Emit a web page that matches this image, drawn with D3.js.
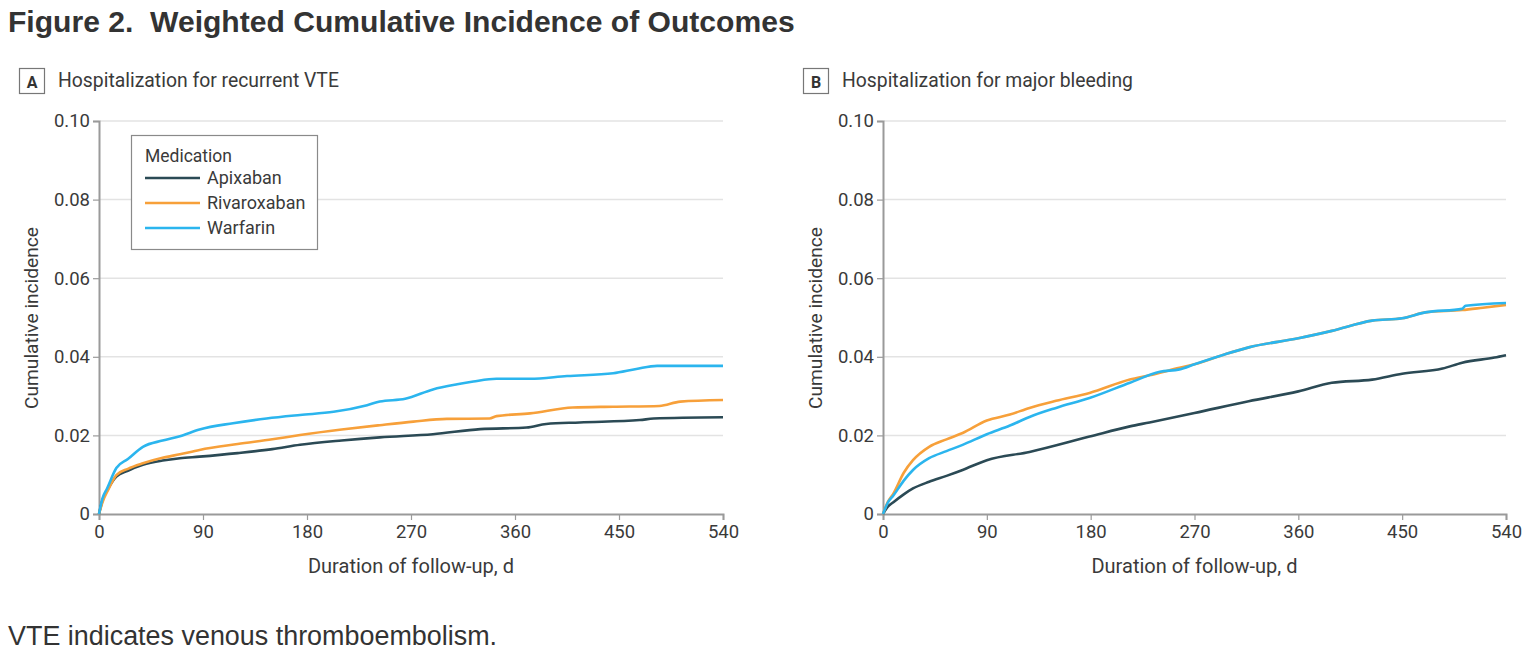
<!DOCTYPE html>
<html>
<head>
<meta charset="utf-8">
<script src="https://cdn.jsdelivr.net/npm/d3@7"></script>
<style>
html,body{margin:0;padding:0;background:#fff;}
svg{display:block;}
text{white-space:pre;}
</style>
</head>
<body>
<svg id="chart" width="1529" height="653"></svg>
<script>
// ---------------- DATA ----------------
const xTicks = [0, 90, 180, 270, 360, 450, 540];
const yTicks = [0, 0.02, 0.04, 0.06, 0.08, 0.10];
const yTickLabels = ["0", "0.02", "0.04", "0.06", "0.08", "0.10"];
const medications = ["Apixaban", "Rivaroxaban", "Warfarin"];
const medColors = ["#2b4a55", "#f7a03a", "#2bb5ee"];

// Panel A: Hospitalization for recurrent VTE
const apixA_days = [0,3,8,15,25,38,55,70,87,120,150,174,210,243,289,330,370,387,416,468,480,540];
const apixA_vals = [0,0.0035,0.0065,0.0095,0.0110,0.0125,0.0136,0.0142,0.0146,0.0155,0.0165,0.0176,0.0187,0.0195,0.0203,0.0216,0.0220,0.0229,0.0233,0.0239,0.0243,0.0246];
const rivaA_days = [0,3,8,15,25,38,55,70,87,120,150,174,210,243,272,301,338,344,373,410,445,485,503,540];
const rivaA_vals = [0,0.003,0.0062,0.0099,0.0115,0.0129,0.0143,0.0152,0.0163,0.0178,0.0190,0.0201,0.0215,0.0226,0.0235,0.0242,0.0243,0.0249,0.0256,0.0271,0.0273,0.0275,0.0286,0.0290];
const warfA_days = [0,3,7,15,25,38,55,70,87,116,145,174,203,232,243,265,289,310,324,344,373,405,445,465,483,540];
const warfA_vals = [0,0.004,0.0065,0.0117,0.0140,0.0171,0.0187,0.0198,0.0215,0.0231,0.0243,0.0252,0.0260,0.0277,0.0286,0.0293,0.0317,0.0330,0.0337,0.0344,0.0344,0.0351,0.0358,0.0369,0.0377,0.0377];

// Panel B: Hospitalization for major bleeding
const apixB_days = [0,4,9,18,26,40,55,69,90,127,179,214,231,270,317,360,389,424,450,485,502,530,540];
const apixB_vals = [0,0.0018,0.0030,0.0050,0.0065,0.0082,0.0097,0.0112,0.0137,0.0158,0.0197,0.0223,0.0233,0.0257,0.0287,0.0312,0.0334,0.0342,0.0357,0.0370,0.0385,0.0398,0.0404];
const rivaB_days = [0,4,9,18,26,40,55,69,90,110,127,150,179,214,231,257,270,294,317,360,389,424,450,470,502,520,540];
const rivaB_vals = [0,0.003,0.0052,0.0105,0.0137,0.0171,0.0190,0.0206,0.0238,0.0253,0.0270,0.0288,0.0308,0.0342,0.0353,0.0372,0.0381,0.0404,0.0424,0.0447,0.0466,0.0492,0.0498,0.0513,0.0519,0.0525,0.0532];
const warfB_days = [0,4,9,18,26,40,55,69,90,110,127,150,179,214,240,257,270,294,317,360,389,424,450,470,502,505,540];
const warfB_vals = [0,0.0028,0.0047,0.0085,0.0112,0.0142,0.0160,0.0176,0.0203,0.0225,0.0247,0.0270,0.0295,0.0334,0.0362,0.0368,0.0381,0.0404,0.0424,0.0447,0.0466,0.0492,0.0498,0.0513,0.0522,0.0530,0.0537];

const figureTitle = "Figure 2.  Weighted Cumulative Incidence of Outcomes";
const panelLetters = ["A", "B"];
const panelTitles = ["Hospitalization for recurrent VTE", "Hospitalization for major bleeding"];
const yAxisTitle = "Cumulative incidence";
const xAxisTitle = "Duration of follow-up, d";
const legendTitle = "Medication";
const footnote = "VTE indicates venous thromboembolism.";

// ---------------- DRAW ----------------
const svg = d3.select("#chart");
const condensed = "'Liberation Sans Narrow', 'Roboto', sans-serif";
const helv = "'Liberation Sans', Arial, sans-serif";
const textColor = "#3a3a3a";

function fitText(sel, width) {
  const len = sel.node().getComputedTextLength();
  const fs = parseFloat(sel.attr("font-size"));
  sel.attr("font-size", (fs * width / len).toFixed(2));
  return sel;
}

svg.append("rect").attr("width", 1529).attr("height", 653).attr("fill", "#fff");

fitText(svg.append("text").attr("x", 8).attr("y", 32)
  .attr("font-family", helv).attr("font-weight", "bold").attr("font-size", 26)
  .attr("fill", "#333").text(figureTitle), 787);

fitText(svg.append("text").attr("x", 8).attr("y", 645)
  .attr("font-family", helv).attr("font-size", 20)
  .attr("fill", "#333").text(footnote), 489);

const panels = [
  { left: 99, right: 723, letterX: 19, titleX: 58, titleW: 281,
    series: [[apixA_days, apixA_vals], [rivaA_days, rivaA_vals], [warfA_days, warfA_vals]], legend: true },
  { left: 883, right: 1506, letterX: 803, titleX: 842, titleW: 291,
    series: [[apixB_days, apixB_vals], [rivaB_days, rivaB_vals], [warfB_days, warfB_vals]], legend: false }
];
const plotTop = 121, plotBottom = 514;

panels.forEach((p, pi) => {
  const g = svg.append("g");
  const x = d3.scaleLinear().domain([0, 540]).range([p.left, p.right]);
  const y = d3.scaleLinear().domain([0, 0.10]).range([plotBottom, plotTop]);

  // panel letter box
  g.append("rect").attr("x", p.letterX + 0.5).attr("y", 68.5).attr("width", 25).attr("height", 25)
    .attr("fill", "#fff").attr("stroke", "#777").attr("stroke-width", 1.2);
  g.append("text").attr("x", p.letterX + 13).attr("y", 87.5).attr("text-anchor", "middle")
    .attr("font-family", condensed).attr("font-weight", "bold").attr("font-size", 16)
    .attr("fill", "#333").text(panelLetters[pi]);
  fitText(g.append("text").attr("x", p.titleX).attr("y", 87)
    .attr("font-family", condensed).attr("font-size", 18)
    .attr("fill", textColor).text(panelTitles[pi]), p.titleW);

  // gridlines
  g.append("g").selectAll("line").data(yTicks.filter(t => t > 0)).join("line")
    .attr("x1", p.left + 1).attr("x2", p.right)
    .attr("y1", d => y(d)).attr("y2", d => y(d))
    .attr("stroke", "#e3e3e3").attr("stroke-width", 1.5);

  // y axis
  const yAxis = d3.axisLeft(y).tickValues(yTicks).tickSize(6).tickPadding(3)
    .tickFormat((d, i) => yTickLabels[i]);
  const ya = g.append("g").attr("transform", `translate(${p.left},0)`).call(yAxis);
  ya.select(".domain").attr("stroke", "#9a9a9a").attr("stroke-width", 2);
  ya.selectAll(".tick line").attr("stroke", "#9a9a9a").attr("stroke-width", 1.2);
  ya.selectAll(".tick text").attr("font-family", condensed).attr("font-size", 18.5).attr("fill", textColor);

  // x axis
  const xAxis = d3.axisBottom(x).tickValues(xTicks).tickSize(6).tickPadding(5);
  const xa = g.append("g").attr("transform", `translate(0,${plotBottom})`).call(xAxis);
  xa.select(".domain").attr("stroke", "#9a9a9a").attr("stroke-width", 2);
  xa.selectAll(".tick line").attr("stroke", "#9a9a9a").attr("stroke-width", 1.2);
  xa.selectAll(".tick text").attr("font-family", condensed).attr("font-size", 18.5).attr("fill", textColor);

  // axis titles
  fitText(g.append("text").attr("transform", `translate(${p.left - 61},318) rotate(-90)`)
    .attr("text-anchor", "middle").attr("font-family", condensed).attr("font-size", 17)
    .attr("fill", textColor).text(yAxisTitle), 182);
  fitText(g.append("text").attr("x", (p.left + p.right) / 2).attr("y", 573)
    .attr("text-anchor", "middle").attr("font-family", condensed).attr("font-size", 17)
    .attr("fill", textColor).text(xAxisTitle), 206);

  // lines
  const line = d3.line().x(d => x(d[0])).y(d => y(d[1])).curve(d3.curveMonotoneX);
  [0, 1, 2].forEach(si => {
    const [days, vals] = p.series[si];
    const pts = days.map((dd, i) => [dd, vals[i]]);
    g.append("path").datum(pts).attr("d", line)
      .attr("fill", "none").attr("stroke", medColors[si]).attr("stroke-width", 2.6)
      .attr("stroke-linejoin", "round");
  });

  if (p.legend) {
    const lg = g.append("g");
    lg.append("rect").attr("x", 131.5).attr("y", 135.5).attr("width", 186).attr("height", 114)
      .attr("fill", "#fff").attr("stroke", "#8a8a8a").attr("stroke-width", 1.2);
    fitText(lg.append("text").attr("x", 145).attr("y", 162).attr("font-family", condensed)
      .attr("font-size", 17).attr("fill", textColor).text(legendTitle), 87);
    medications.forEach((m, i) => {
      const yy = 178 + i * 25;
      lg.append("line").attr("x1", 145).attr("x2", 200).attr("y1", yy).attr("y2", yy)
        .attr("stroke", medColors[i]).attr("stroke-width", 2.6);
      lg.append("text").attr("x", 207).attr("y", yy + 6).attr("font-family", condensed)
        .attr("font-size", 18).attr("fill", textColor).text(m);
    });
  }
});
</script>
</body>
</html>
